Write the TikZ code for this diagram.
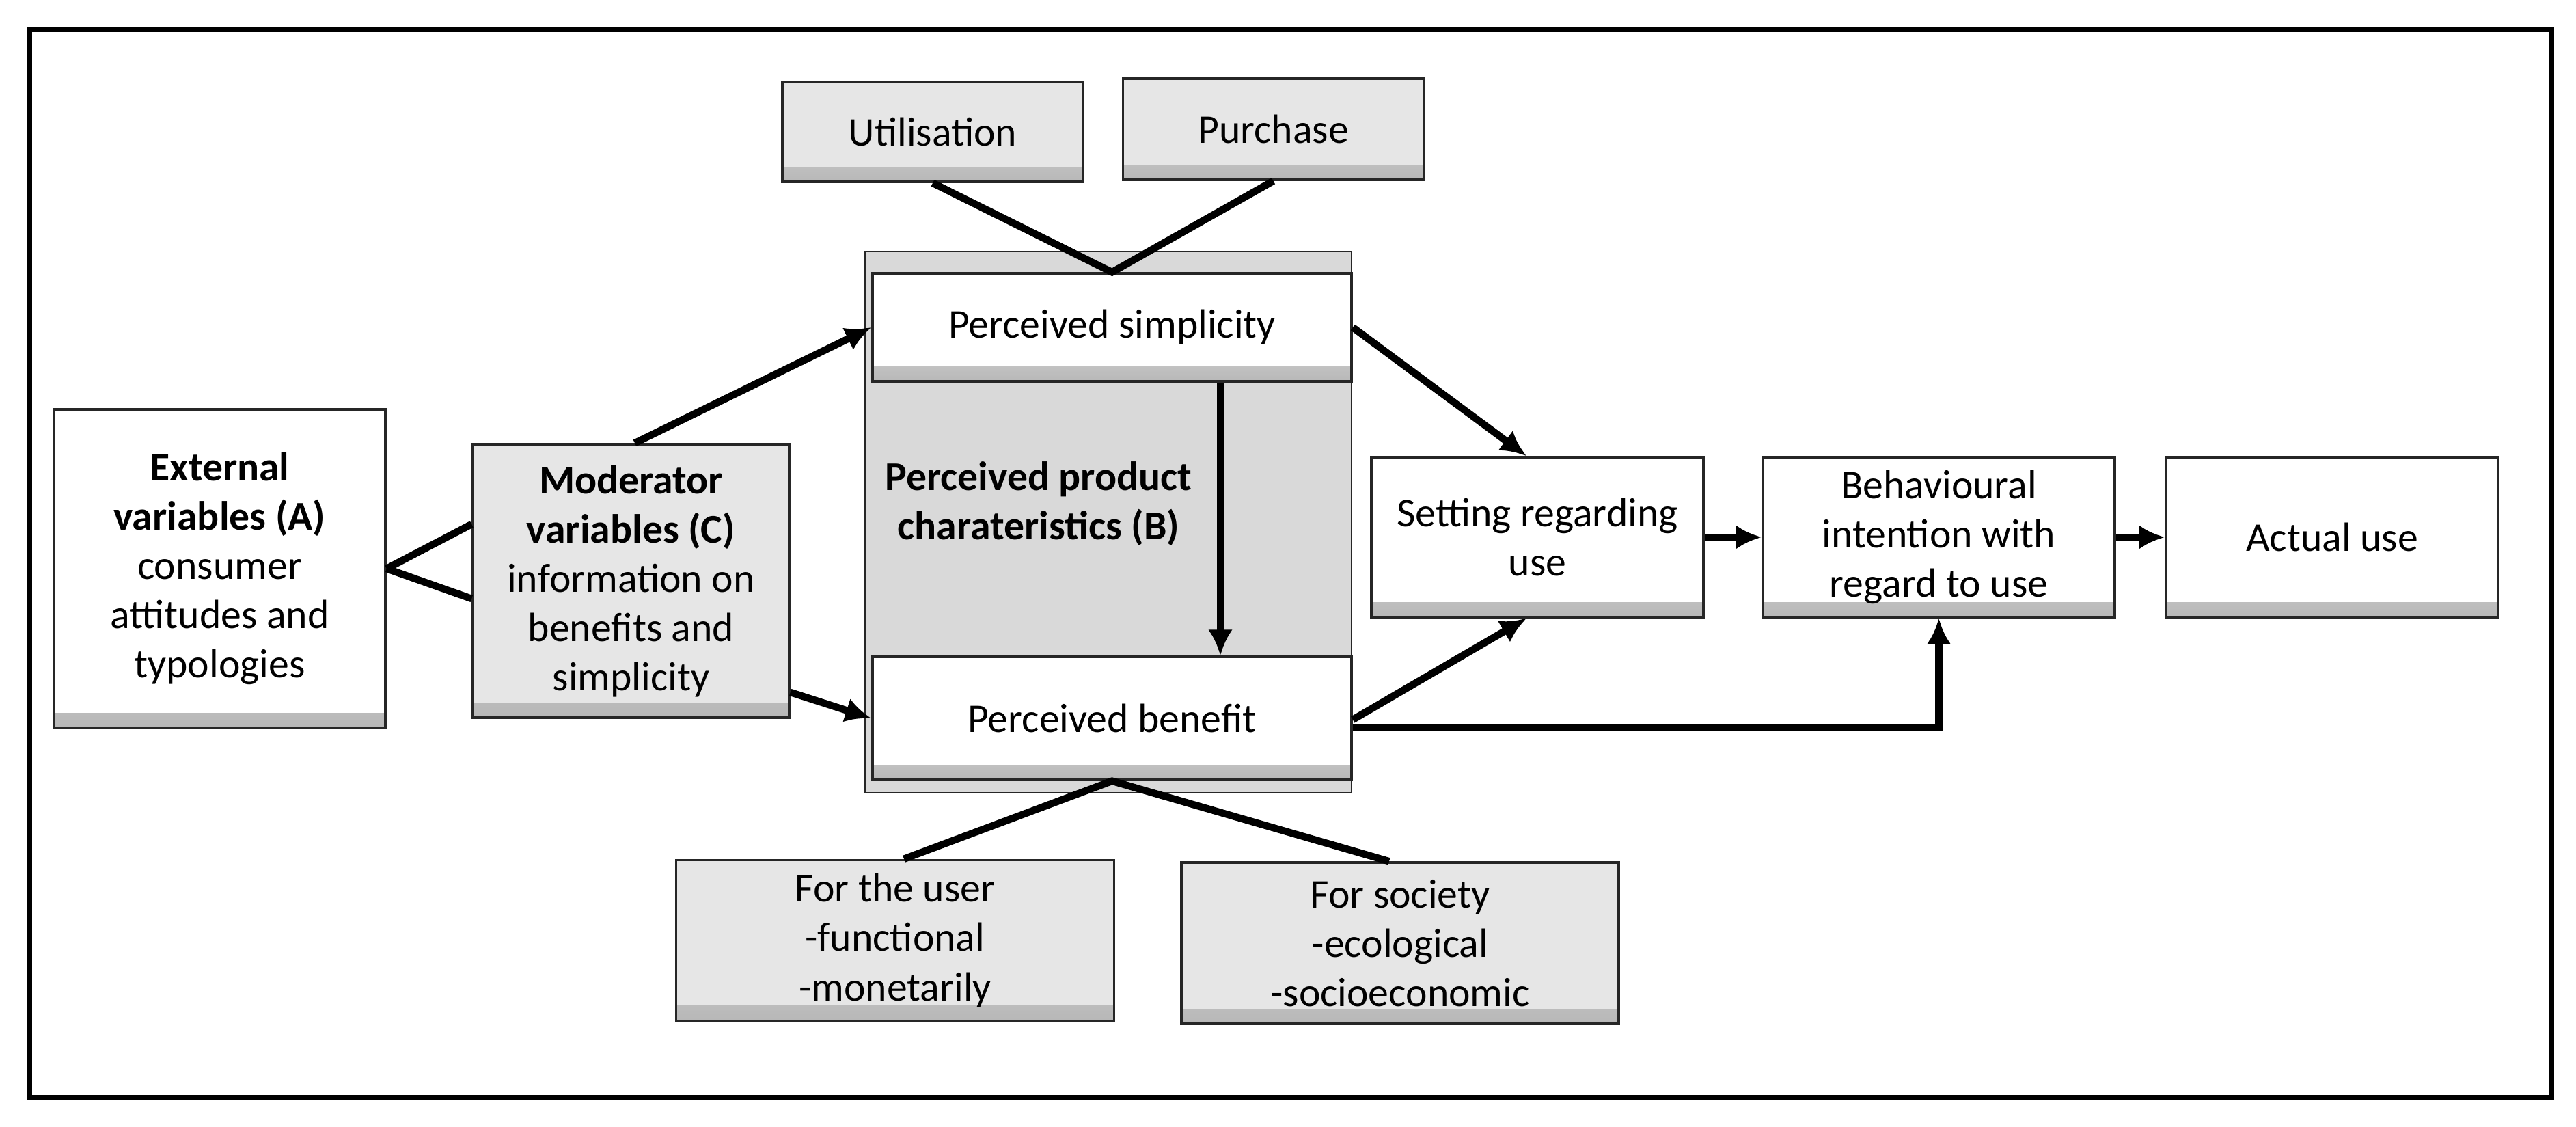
\documentclass[tikz,border=0pt]{standalone}
\usepackage{fontspec}
\setmainfont{Carlito}
\usetikzlibrary{arrows.meta}
\definecolor{boxgrey}{HTML}{E6E6E6}
\definecolor{groupgrey}{HTML}{D9D9D9}
\begin{document}
\begin{tikzpicture}[
  every node/.style={font=\fontsize{17}{20.5}\selectfont},
  bevel/.style={path picture={\shade[top color=#1, bottom color=black!28] ([yshift=0.22cm]path picture bounding box.south west) rectangle (path picture bounding box.south east);}},
  box/.style={draw=black!85, line width=1pt, fill=white, bevel=white, align=center, inner sep=0pt},
  greybox/.style={box, fill=boxgrey, bevel=boxgrey},
  conn/.style={line width=3pt},
  arr/.style={conn, -{Latex[length=3.8mm,width=3.6mm]}}]
\useasboundingbox (0,0) rectangle (37.70,-16.48);
\draw [line width=2.4pt] (0.43,-0.43) rectangle (37.34,-16.06);
\node [draw=black!85, line width=0.8pt, fill=groupgrey, minimum width=7.12cm, minimum height=7.92cm] (grp) at (16.22,-7.64) {};
\node [font=\fontsize{17}{20.5}\selectfont\bfseries, align=center] (lbl) at (15.20,-7.37) {Perceived product\\charateristics (B)};
\node [box, minimum width=4.85cm, minimum height=4.66cm] (ext) at (3.215,-8.32) {\textbf{External}\\\textbf{variables (A)}\\consumer\\attitudes and\\typologies};
\node [greybox, minimum width=4.63cm, minimum height=4.00cm] (mod) at (9.235,-8.50) {\textbf{Moderator}\\\textbf{variables (C)}\\information on\\benefits and\\simplicity};
\node [greybox, minimum width=4.40cm, minimum height=1.46cm] (util) at (13.65,-1.93) {Utilisation};
\node [greybox, minimum width=4.40cm, minimum height=1.48cm] (purch) at (18.635,-1.89) {Purchase};
\node [box, minimum width=7.01cm, minimum height=1.58cm] (simp) at (16.275,-4.79) {Perceived simplicity};
\node [box, minimum width=7.01cm, minimum height=1.80cm] (ben) at (16.275,-10.51) {Perceived benefit};
\node [box, minimum width=4.86cm, minimum height=2.34cm] (set) at (22.50,-7.86) {Setting regarding\\use};
\node [box, minimum width=5.15cm, minimum height=2.34cm] (beh) at (28.375,-7.86) {Behavioural\\intention with\\regard to use};
\node [box, minimum width=4.86cm, minimum height=2.34cm] (act) at (34.13,-7.86) {Actual use};
\node [greybox, minimum width=6.41cm, minimum height=2.35cm] (user) at (13.10,-13.76) {For the user\\-functional\\-monetarily};
\node [greybox, minimum width=6.40cm, minimum height=2.36cm] (soc) at (20.49,-13.80) {For society\\-ecological\\-socioeconomic};
\draw [conn] (ext.east) -- ([yshift=0.83cm]mod.west);
\draw [conn] (ext.east) -- ([yshift=-0.26cm]mod.west);
\draw [arr] ([xshift=0.055cm]mod.north) -- (simp.west);
\draw [arr] ([yshift=-1.63cm]mod.east) -- (ben.west);
\draw [conn] (util.south) -- (simp.north) -- (purch.south);
\draw [conn] ([xshift=0.13cm]user.north) -- (ben.south) -- ([xshift=-0.16cm]soc.north);
\draw [arr] ([xshift=1.585cm]simp.south) -- ([xshift=1.585cm]ben.north);
\draw [arr] (simp.east) -- ([xshift=-0.16cm]set.north);
\draw [arr] ([yshift=-0.02cm]ben.east) -- ([xshift=-0.16cm]set.south);
\draw [arr] ([yshift=-0.14cm]ben.east) -| (beh.south);
\draw [arr] (set) -- (beh);
\draw [arr] (beh) -- (act);
\end{tikzpicture}
\end{document}
